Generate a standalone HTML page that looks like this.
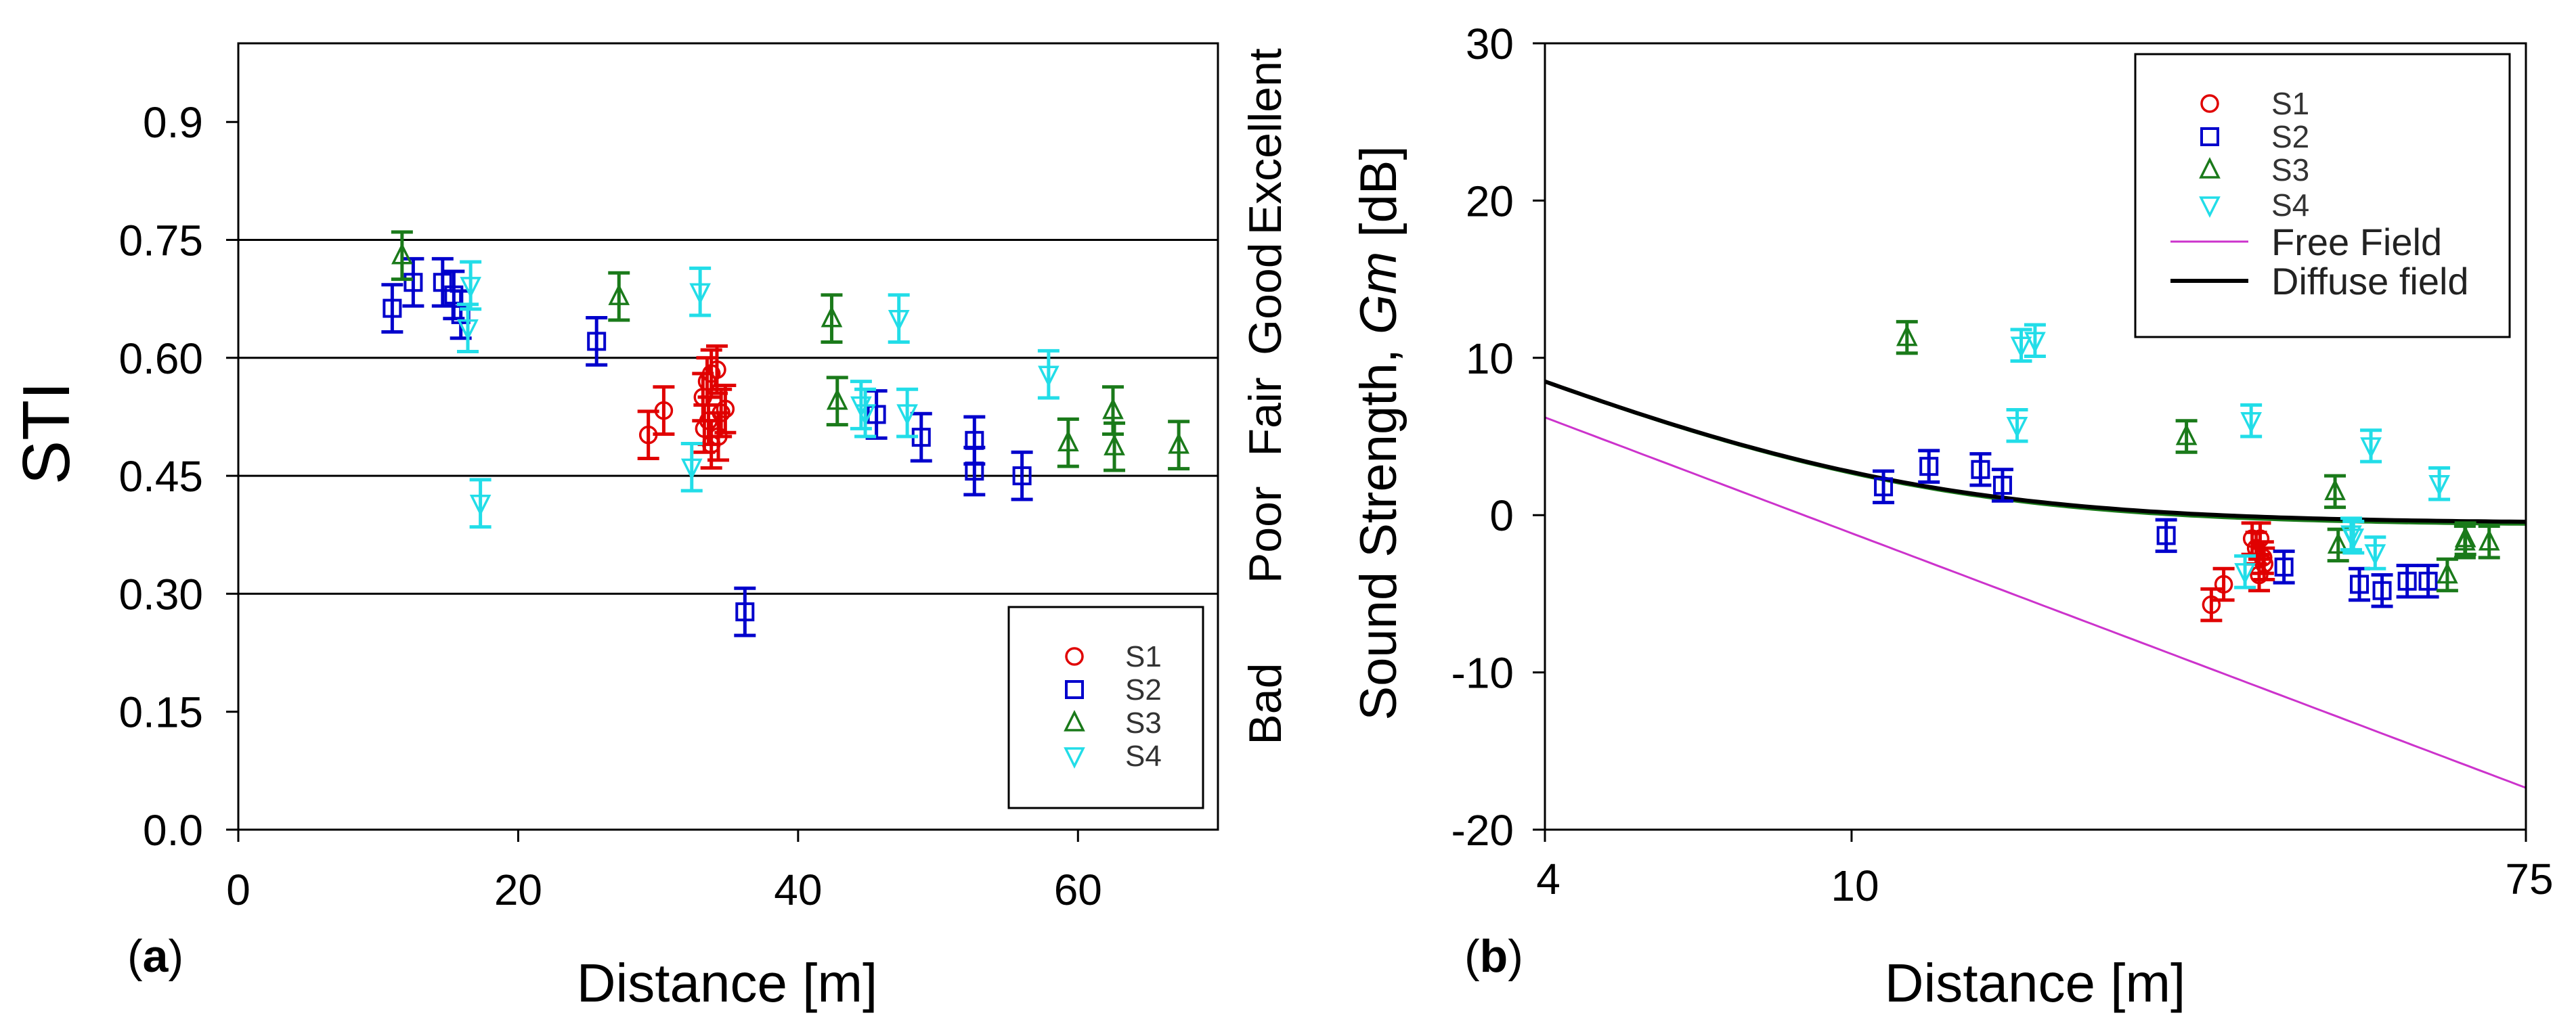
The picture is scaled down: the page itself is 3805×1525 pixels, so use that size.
<!DOCTYPE html>
<html><head><meta charset="utf-8"><style>
html,body{margin:0;padding:0;background:#fff;}
svg{display:block;font-family:"Liberation Sans",Arial,sans-serif;}
</style></head><body>
<svg id="fig" width="3805" height="1525" viewBox="0 0 3805 1525" xmlns="http://www.w3.org/2000/svg">
<g id="pa"></g>
<g id="pb"></g>
</svg>
<script>
// ---- Panel (a) data: STI vs distance ----
const aTicksY = ["0.0","0.15","0.30","0.45","0.60","0.75","0.9"];
const aTickValsY = [0,0.15,0.30,0.45,0.60,0.75,0.9];
const aTicksX = [0,20,40,60];
const aGridVals = [0.30,0.45,0.60,0.75];
const aS1x = [29.3,30.4,33.2,33.5,33.8,34.2,33.3,33.8,34.5,34.8,34.3,33.6];
const aS1y = [0.502,0.533,0.55,0.57,0.58,0.585,0.51,0.49,0.53,0.535,0.50,0.52];
const aS2x = [11.0,12.5,14.6,15.4,15.9,25.6,36.2,45.6,48.8,52.6,52.6,56.0];
const aS2y = [0.663,0.696,0.696,0.68,0.655,0.621,0.277,0.528,0.499,0.495,0.456,0.45];
const aS3x = [11.7,27.2,42.4,42.8,59.3,62.5,62.6,67.2];
const aS3y = [0.73,0.678,0.65,0.545,0.492,0.533,0.487,0.489];
const aS4x = [16.6,16.4,17.3,32.4,33.0,44.5,44.8,47.2,47.8,57.9];
const aS4y = [0.692,0.638,0.415,0.461,0.684,0.54,0.53,0.65,0.53,0.579];
// ---- Panel (b) data: Sound strength vs distance ----
const bTicksY = [-20,-10,0,10,20,30];
const bTicksX = [4,10,75];
const bS1x = [29.3,30.4,33.1,33.5,33.9,34.2,33.8,34.3];
const bS1y = [-5.7,-4.4,-1.5,-2.1,-1.5,-2.7,-3.8,-3.1];
const bS2x = [11.0,12.6,14.7,15.7,25.6,36.4,45.6,48.8,52.6,56.0];
const bS2y = [1.8,3.1,2.9,1.9,-1.3,-3.3,-4.4,-4.8,-4.2,-4.2];
const bS3x = [11.8,27.2,42.4,42.8,59.3,62.5,62.6,67.2];
const bS3y = [11.3,5.0,1.5,-1.9,-3.8,-1.7,-1.5,-1.7];
const bS4x = [16.4,16.6,17.3,32.4,33.0,44.5,44.8,47.2,47.8,57.9];
const bS4y = [5.7,10.8,11.1,-3.6,6.0,-1.2,-1.4,4.4,-2.4,2.0];

const NS="http://www.w3.org/2000/svg";
function mk(parent,tag,attrs,text){const e=document.createElementNS(NS,tag);for(const k in attrs)e.setAttribute(k,attrs[k]);if(text!==undefined)e.textContent=text;parent.appendChild(e);return e;}
const COL={S1:"#e00000",S2:"#0000cc",S3:"#1a7a1a",S4:"#22dde8"};

function marker(g,type,cx,cy,color){
  const s=14;let el;
  if(type==="S1"){el=mk(g,"circle",{cx:cx,cy:cy,r:12,fill:"none",stroke:color,"stroke-width":3.5});}
  else if(type==="S2"){el=mk(g,"rect",{x:cx-s+2,y:cy-s+2,width:2*s-4,height:2*s-4,fill:"none",stroke:color,"stroke-width":4});}
  else if(type==="S3"){el=mk(g,"polygon",{points:`${cx},${cy-15} ${cx-13},${cy+11} ${cx+13},${cy+11}`,fill:"none",stroke:color,"stroke-width":3.5});}
  else {el=mk(g,"polygon",{points:`${cx},${cy+15} ${cx-13},${cy-11} ${cx+13},${cy-11}`,fill:"none",stroke:color,"stroke-width":3.5});}
  return el;
}
function errbar(g,cx,y1,y2,color){
  mk(g,"line",{x1:cx,y1:y1,x2:cx,y2:y2,stroke:color,"stroke-width":5});
  mk(g,"line",{x1:cx-16,y1:y1,x2:cx+16,y2:y1,stroke:color,"stroke-width":5});
  mk(g,"line",{x1:cx-16,y1:y2,x2:cx+16,y2:y2,stroke:color,"stroke-width":5});
}

// ===== Panel (a) =====
(function(){
  const g=document.getElementById("pa");
  const L=352,R=1799,T=64,B=1226;
  const X=v=>L+(v/70)*(R-L), Y=v=>B-(v/1.0)*(B-T);
  aGridVals.forEach(v=>{
    const l=mk(g,"line",{x1:L,y1:Y(v),x2:R,y2:Y(v),stroke:"#000","stroke-width":3});
    
    
  });
  const fr=mk(g,"rect",{x:L,y:T,width:R-L,height:B-T,fill:"none",stroke:"#000","stroke-width":3});
  
  
  aTickValsY.forEach((v,i)=>{
    mk(g,"line",{x1:L-18,y1:Y(v),x2:L,y2:Y(v),stroke:"#000","stroke-width":3});
    const t=mk(g,"text",{x:300,y:Y(v)+23,"font-size":64,"text-anchor":"end"},aTicksY[i]);
    
    
  });
  aTicksX.forEach(v=>{
    mk(g,"line",{x1:X(v),y1:B,x2:X(v),y2:B+18,stroke:"#000","stroke-width":3});
    const t=mk(g,"text",{x:X(v),y:1337,"font-size":64,"text-anchor":"middle"},String(v));
    
    
  });
  const yt=mk(g,"text",{x:0,y:0,"font-size":98,"text-anchor":"middle",transform:"translate(102,640) rotate(-90)"},"STI");
  
  
  const xt=mk(g,"text",{x:1074,y:1480,"font-size":80,"text-anchor":"middle"},"Distance [m]");
  
  
  const pl=mk(g,"text",{x:188,y:1436,"font-size":68},"");
  
  
  pl.innerHTML='(<tspan font-weight="bold">a</tspan>)';
  const cats=[["Excellent",(1.0+0.75)/2],["Good",(0.75+0.6)/2],["Fair",(0.6+0.45)/2],["Poor",(0.45+0.3)/2],["Bad",0.16]];
  cats.forEach(c=>{
    const t=mk(g,"text",{x:0,y:0,"font-size":68,"text-anchor":"middle",transform:`translate(1892,${Y(c[1])}) rotate(-90)`},c[0]);
    
    
  });
  const series=[["S1",aS1x,aS1y],["S2",aS2x,aS2y],["S3",aS3x,aS3y],["S4",aS4x,aS4y]];
  series.forEach(s=>{
    const sg=mk(g,"g",{});
    
    
    s[1].forEach((xv,i)=>{
      const yv=s[2][i];
      errbar(sg,X(xv),Y(yv+0.03),Y(yv-0.03),COL[s[0]]);
      const m=marker(sg,s[0],X(xv),Y(yv),COL[s[0]]);
      
      
    });
  });
  const lg=mk(g,"g",{});
  
  
  mk(lg,"rect",{x:1490,y:897,width:287,height:297,fill:"#fff",stroke:"#000","stroke-width":3});
  ["S1","S2","S3","S4"].forEach((s,i)=>{
    const y=970+i*49;
    marker(lg,s,1587,y,COL[s]);
    const t=mk(lg,"text",{x:1662,y:y+15,"font-size":44,fill:"#333"},s);
    
    
  });
})();

// ===== Panel (b) =====
(function(){
  const g=document.getElementById("pb");
  const L=2282,R=3731,T=64,B=1226;
  const lx0=Math.log10(4),lx1=Math.log10(75);
  const X=v=>L+(Math.log10(v)-lx0)/(lx1-lx0)*(R-L), Y=v=>B-((v+20)/50)*(B-T);
  bTicksY.forEach(v=>{
    mk(g,"line",{x1:L-18,y1:Y(v),x2:L,y2:Y(v),stroke:"#000","stroke-width":3});
    const t=mk(g,"text",{x:2236,y:Y(v)+23,"font-size":64,"text-anchor":"end"},String(v));
    
    
  });
  bTicksX.forEach(v=>{
    mk(g,"line",{x1:X(v),y1:B,x2:X(v),y2:B+18,stroke:"#000","stroke-width":3});
    const t=mk(g,"text",{x:X(v)+5,y:v===10?1331:1321,"font-size":64,"text-anchor":"middle"},String(v));
    
    
  });
  const N=120;let ff="",df="",dg="";
  for(let i=0;i<=N;i++){
    const r=Math.pow(10,lx0+(lx1-lx0)*i/N);
    const gf=17.35-18.5*Math.log10(r);
    const gd=10*Math.log10(99/(r*r)+0.89);
    const gg=10*Math.log10(99/(r*r)+0.86);
    ff+=(i?"L":"M")+X(r).toFixed(1)+","+Y(gf).toFixed(1);
    df+=(i?"L":"M")+X(r).toFixed(1)+","+Y(gd).toFixed(1);
    dg+=(i?"L":"M")+X(r).toFixed(1)+","+Y(gg).toFixed(1);
  }
  const fl=mk(g,"path",{d:ff,fill:"none",stroke:"#cc33cc","stroke-width":3});
  
  
  const gl=mk(g,"path",{d:dg,fill:"none",stroke:"#1a7a1a","stroke-width":5});
  
  
  const dl=mk(g,"path",{d:df,fill:"none",stroke:"#000","stroke-width":6});
  
  
  const series=[["S1",bS1x,bS1y],["S2",bS2x,bS2y],["S3",bS3x,bS3y],["S4",bS4x,bS4y]];
  series.forEach(s=>{
    const sg=mk(g,"g",{});
    
    
    s[1].forEach((xv,i)=>{
      const yv=s[2][i];
      errbar(sg,X(xv),Y(yv+1.0),Y(yv-1.0),COL[s[0]]);
      const m=marker(sg,s[0],X(xv),Y(yv),COL[s[0]]);
      
      
    });
  });
  const fr=mk(g,"rect",{x:L,y:T,width:R-L,height:B-T,fill:"none",stroke:"#000","stroke-width":3});
  
  
  const yt=mk(g,"text",{x:0,y:0,"font-size":76,"text-anchor":"middle",transform:"translate(2062,640) rotate(-90)"},"");
  
  
  yt.innerHTML='Sound Strength, <tspan font-style="italic">Gm</tspan> [dB]';
  const xt=mk(g,"text",{x:3006,y:1480,"font-size":80,"text-anchor":"middle"},"Distance [m]");
  
  
  const pl=mk(g,"text",{x:2163,y:1436,"font-size":68},"");
  
  
  pl.innerHTML='(<tspan font-weight="bold">b</tspan>)';
  const lg=mk(g,"g",{});
  
  
  mk(lg,"rect",{x:3154,y:80,width:553,height:418,fill:"#fff",stroke:"#000","stroke-width":3});
  const ys=[153,202,251,303];
  ["S1","S2","S3","S4"].forEach((s,i)=>{
    marker(lg,s,3264,ys[i],COL[s]);
    const t=mk(lg,"text",{x:3355,y:ys[i]+16,"font-size":46,fill:"#333"},s);
    
    
  });
  mk(lg,"line",{x1:3206,y1:357,x2:3321,y2:357,stroke:"#cc33cc","stroke-width":3});
  const t1=mk(lg,"text",{x:3355,y:377,"font-size":56,fill:"#222"},"Free Field");
  
  
  mk(lg,"line",{x1:3206,y1:415,x2:3321,y2:415,stroke:"#000","stroke-width":6});
  const t2=mk(lg,"text",{x:3355,y:435,"font-size":56,fill:"#222"},"Diffuse field");
  
  
})();
</script>
</body></html>
